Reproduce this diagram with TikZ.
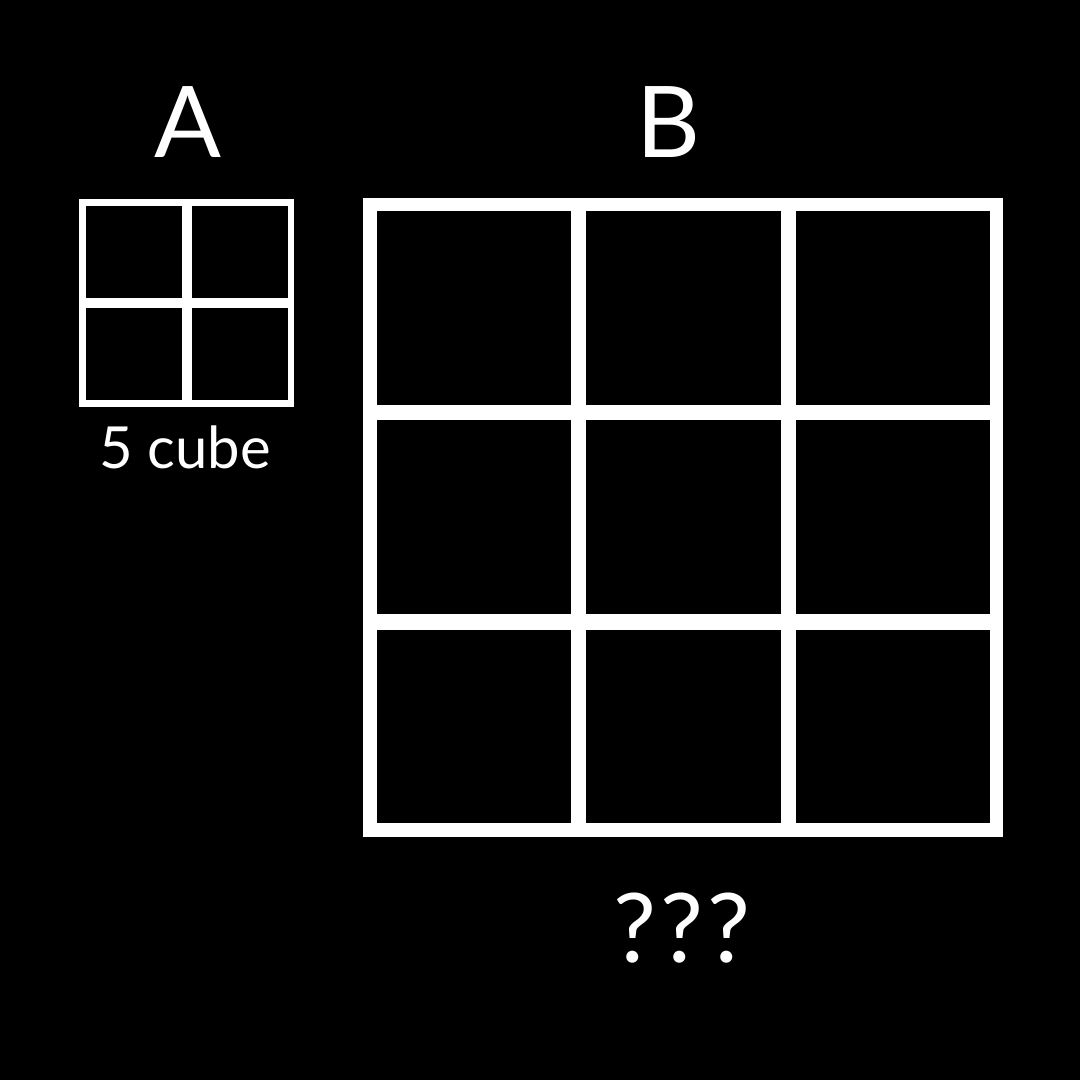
\documentclass[tikz,border=0pt]{standalone}
\usepackage{fontspec}
\setmainfont{Lato}
\newcommand{\bigletter}[3]{\node[txt,font=\fontsize{99}{99}\selectfont] (#1) at (#2,#3) {#1};}
\newcommand{\gridv}[4]{\draw[#1] (#2,#3) -- (#2,#4);}
\newcommand{\gridh}[4]{\draw[#1] (#3,#2) -- (#4,#2);}

\begin{document}
\begin{tikzpicture}[x=1pt,y=-1pt,
    txt/.style={text=white,anchor=base,inner sep=0pt},
    frameA/.style={draw=white,line width=6.5pt},
    innerA/.style={draw=white,line width=10pt},
    frameB/.style={draw=white,line width=13.3pt},
    innerB/.style={draw=white,line width=15.5pt}]
    \fill[black] (0,0) rectangle (1080,1080); \useasboundingbox (0,0) rectangle (1080,1080);
    \bigletter{A}{188}{157} \bigletter{B}{668}{157}
    % grid A
    \draw[frameA] (82.5,202.5) rectangle (291,403.3);
    \gridv{innerA}{186.7}{202.5}{403.3} \gridh{innerA}{302.7}{82.5}{291}
    \node[txt,font=\fontsize{58}{58}\selectfont] (cubes) at (185,468) {5 cube};
    % grid B
    \draw[frameB] (370,204.7) rectangle (996.7,830);
    \gridv{innerB}{578.3}{204.7}{830} \gridv{innerB}{788.3}{204.7}{830}
    \gridh{innerB}{412.7}{370}{996.7} \gridh{innerB}{621.8}{370}{996.7}
    \node[txt,font=\fontsize{96}{96}\selectfont] (unknown) at (682,962) {?\kern4pt?\kern4pt?};
\end{tikzpicture}
\end{document}
